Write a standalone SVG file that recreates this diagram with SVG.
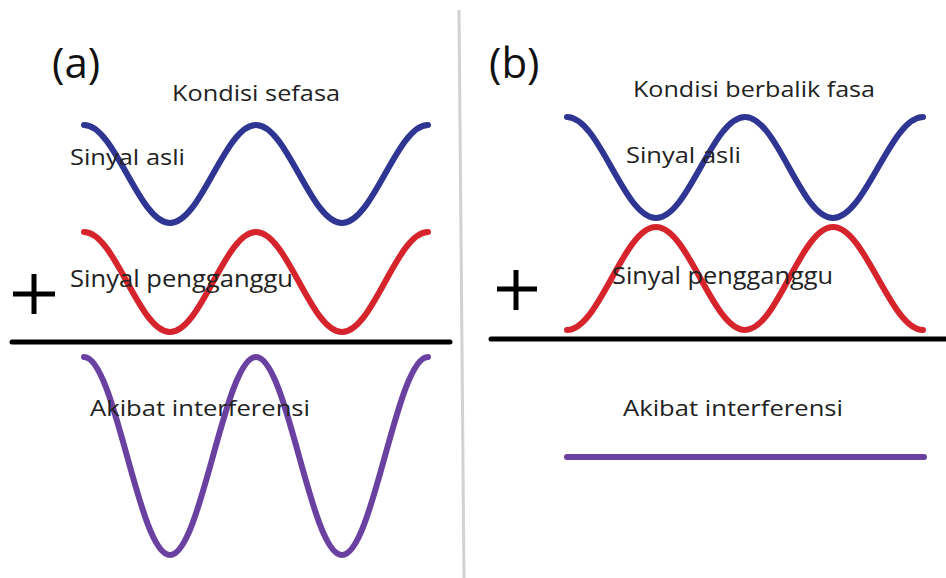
<svg xmlns="http://www.w3.org/2000/svg" width="946" height="578" viewBox="0 0 946 578">
  <style>
    .lbl { font-family: "Open Sans", "Liberation Sans", sans-serif; fill: #222; }
    .big { font-family: "Open Sans", "Liberation Sans", sans-serif; fill: #111; font-size: 42px; }
    .wave { fill: none; stroke-width: 6; stroke-linecap: round; stroke-linejoin: round; }
    .blue { stroke: #2e3592; }
    .red { stroke: #d6242c; }
    .purple { stroke: #6a40a0; }
    .bar { stroke: #000; stroke-width: 5; stroke-linecap: round; }
    .plus { stroke: #000; stroke-width: 5; }
  </style>
  <rect x="0" y="0" width="946" height="578" fill="#fff"/>
  <line x1="459" y1="10" x2="464" y2="578" stroke="#d2d2d2" stroke-width="3"/>

  <g id="panel-a">
    <text class="big" x="52" y="78">(a)</text>
    <text class="lbl" x="172" y="101" font-size="22" textLength="168" lengthAdjust="spacingAndGlyphs">Kondisi sefasa</text>
    <path class="wave blue" d="M84,125 C115.3,125 138.7,223 170,223 S224.7,125 256,125 S310.7,223 342,223 S396.7,125 428,125"/>
    <text class="lbl" x="70" y="165" font-size="22" textLength="115" lengthAdjust="spacingAndGlyphs">Sinyal asli</text>
    <path class="wave red" d="M84,232 C115.3,232 138.7,332 170,332 S224.7,232 256,232 S310.7,332 342,332 S396.7,232 428,232"/>
    <text class="lbl" x="70" y="287" font-size="24" textLength="223" lengthAdjust="spacingAndGlyphs">Sinyal pengganggu</text>
    <line class="plus" x1="13" y1="294" x2="55" y2="294"/>
    <line class="plus" x1="34" y1="274" x2="34" y2="314"/>
    <line class="bar" x1="12" y1="342" x2="450" y2="342"/>
    <path class="wave purple" d="M84,357 C115.3,357 138.7,555 170,555 S224.7,357 256,357 S310.7,555 342,555 S396.7,357 428,357"/>
    <text class="lbl" x="90" y="416" font-size="22" textLength="220" lengthAdjust="spacingAndGlyphs">Akibat interferensi</text>
  </g>

  <g id="panel-b">
    <text class="big" x="489" y="78">(b)</text>
    <text class="lbl" x="633" y="97" font-size="22" textLength="242" lengthAdjust="spacingAndGlyphs">Kondisi berbalik fasa</text>
    <path class="wave blue" d="M567,117 C599.4,117 623.6,218 656,218 S712.6,117 745,117 S800.6,218 833,218 S890.6,117 923,117"/>
    <text class="lbl" x="626" y="163" font-size="22" textLength="115" lengthAdjust="spacingAndGlyphs">Sinyal asli</text>
    <path class="wave red" d="M567,330 C599.4,330 623.6,227 656,227 S712.6,330 745,330 S800.6,227 833,227 S890.6,330 923,330"/>
    <text class="lbl" x="612" y="284" font-size="24" textLength="221" lengthAdjust="spacingAndGlyphs">Sinyal pengganggu</text>
    <line class="plus" x1="497" y1="289" x2="537" y2="289"/>
    <line class="plus" x1="516" y1="270" x2="516" y2="310"/>
    <line class="bar" x1="491" y1="339" x2="946" y2="339"/>
    <text class="lbl" x="623" y="416" font-size="22" textLength="220" lengthAdjust="spacingAndGlyphs">Akibat interferensi</text>
    <line x1="567" y1="457" x2="924" y2="457" stroke="#6a40a0" stroke-width="6" stroke-linecap="round"/>
  </g>
</svg>
